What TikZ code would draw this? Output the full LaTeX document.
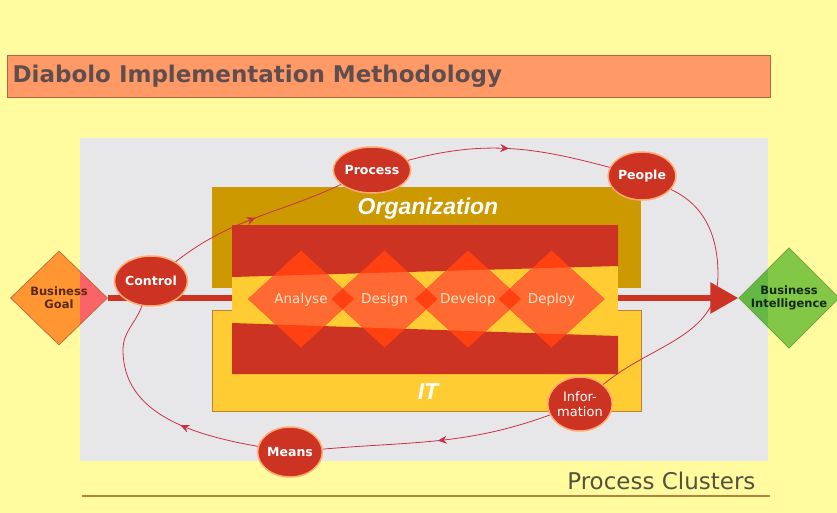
\documentclass[tikz,border=0pt]{standalone}
\usepackage{fontspec}
\setmainfont{DejaVu Sans}
\newfontfamily\boxfont{Liberation Sans}
\usetikzlibrary{positioning,shapes.geometric,arrows.meta,decorations.markings}

\definecolor{pagebg}{RGB}{255,251,158}
\definecolor{panelgray}{RGB}{231,231,233}
\definecolor{titlefill}{RGB}{255,153,102}
\definecolor{titleedge}{RGB}{176,104,64}
\definecolor{titletext}{RGB}{96,78,78}
\definecolor{footertext}{RGB}{84,82,62}
\definecolor{orggold}{RGB}{204,153,0}
\definecolor{ityellow}{RGB}{255,204,51}
\definecolor{itedge}{RGB}{184,128,48}
\definecolor{bandred}{RGB}{204,51,34}
\definecolor{hotorange}{RGB}{255,64,16}
\definecolor{softorange}{RGB}{255,106,51}
\definecolor{stagetext}{RGB}{255,228,200}
\definecolor{clusterred}{RGB}{204,51,34}
\definecolor{clusterrim}{RGB}{255,170,110}
\definecolor{loopred}{RGB}{200,50,70}
\definecolor{goalorange}{RGB}{255,150,50}
\definecolor{goalpink}{RGB}{250,100,105}
\definecolor{goaledge}{RGB}{190,110,60}
\definecolor{goaltext}{RGB}{90,40,20}
\definecolor{bigreen}{RGB}{100,185,70}
\definecolor{bilight}{RGB}{130,200,70}
\definecolor{biedge}{RGB}{110,160,60}
\definecolor{bitext}{RGB}{20,40,20}
\definecolor{rulebrown}{RGB}{180,130,60}

\begin{document}
\begin{tikzpicture}[x=1pt, y=-1pt,
	cluster/.style={ellipse, fill=clusterred, draw=clusterrim, line width=1.5pt, minimum width=58pt, minimum height=50pt, inner sep=0pt, text=white, font=\fontsize{12.5}{14}\selectfont\bfseries},
	stage/.style={text=stagetext, font=\fontsize{13.5}{15}\selectfont},
	goalshape/.style={diamond, minimum width=97pt, minimum height=94pt, inner sep=0pt, align=center, line width=0.8pt, font=\fontsize{11.5}{13}\selectfont\bfseries},
	flow/.style={draw=loopred, line width=0.8pt, postaction={decorate}, decoration={markings, mark=at position #1 with {\arrow{Stealth[length=9pt,width=8pt]}}}},
	layer/.style={font=\boxfont\fontsize{23}{26}\selectfont\bfseries\itshape, text=white}]
		\useasboundingbox (0,0) rectangle (837,513);
		\fill[pagebg] (0,0) rectangle (837,513);
		\fill[panelgray] (80,138) rectangle (768,461);
		
		% title and footer
		\draw[titleedge, fill=titlefill] (7,55) rectangle (770,97);
		\node[anchor=west, text=titletext, font=\fontsize{23}{26}\selectfont\bfseries] (title) at (9,76) {Diabolo Implementation Methodology};
		\draw[rulebrown, line width=1.5pt] (82,496) -- (770,496);
		\node[anchor=east, text=footertext, font=\fontsize{23}{26}\selectfont] (clusters) at (759,481) {Process Clusters};
		
		% goal and result
		\node[goalshape, draw=goaledge, fill=goalorange, text=goaltext, path picture={\fill[goalpink] ([xshift=21pt]path picture bounding box.north) rectangle (path picture bounding box.south east);}] (goal) at (59,298) {Business\\Goal};
		\node[goalshape, draw=biedge, fill=bilight, text=bitext, path picture={\fill[bigreen] (path picture bounding box.south west) rectangle ([xshift=-21pt]path picture bounding box.north);}] (intel) at (789,298) {Business\\Intelligence};
		\draw[bandred, line width=6pt, -{Triangle[length=28pt,width=30pt]}] (goal.east) -- (intel.west);
		
		% organization and IT
		\fill[orggold] (212,187) rectangle (641,288);
		\draw[itedge, fill=ityellow] (212,310) rectangle (641,411);
		\node[layer] (org) at (428,209) {Organization};
		\node[layer] (it) at (428,392) {IT};
		
		% process band
		\fill[ityellow] (232,225) rectangle (618,374);
		\fill[bandred] (232,225) -- (618,225) -- (618,266) -- (232,277) -- cycle;
		\fill[bandred] (232,323) -- (618,336) -- (618,374) -- (232,374) -- cycle;
		\foreach \cx in {301,384.5,468,551.5}
			\fill[hotorange] ({\cx-53},299) -- (\cx,250.5) -- ({\cx+53},299) -- (\cx,347.5) -- cycle;
		\begin{scope}
			\clip (232,277) -- (618,266) -- (618,336) -- (232,323) -- cycle;
			\foreach \cx in {301,384.5,468,551.5}
				\fill[softorange] ({\cx-53},299) -- (\cx,250.5) -- ({\cx+53},299) -- (\cx,347.5) -- cycle;
			\foreach \ox in {342.75,426.25,509.75}
				\fill[hotorange] ({\ox-11.25},299) -- (\ox,288.7) -- ({\ox+11.25},299) -- (\ox,309.3) -- cycle;
		\end{scope}
		\node[stage] (analyse) at (301,300) {Analyse};
		\node[stage, right of=analyse, node distance=83.5pt] (design) {Design};
		\node[stage, right of=design, node distance=83.5pt] (develop) {Develop};
		\node[stage, right of=develop, node distance=83.5pt] (deploy) {Deploy};
		
		% cycle
		\node[cluster] (control) at (151,281) {Control};
		\node[cluster, minimum width=60pt, minimum height=46pt] (process) at (372,170) {Process};
		\node[cluster, minimum width=60pt, minimum height=48pt] (people) at (642,176) {People};
		\node[cluster, minimum width=64pt, minimum height=54pt, font=\fontsize{13}{14.5}\selectfont, align=center] (info) at (580,404) {Infor-\\mation};
		\node[cluster] (means) at (290,452) {Means};
		\coordinate (rimeast) at (718,275);
		\coordinate (rimwest) at (123,350);
		
		\draw[flow=0.5] (control) to[out=38,in=205] (process);
		\draw[flow=0.5] (process) to[out=15,in=165] (people);
		\draw[loopred, line width=0.8pt] (people) to[out=-25,in=90] (rimeast) to[out=-90,in=40] (info);
		\draw[flow=0.5] (info) to[out=200,in=5] (means);
		\draw[flow=0.35] (means) to[out=170,in=-90] (rimwest) to[out=90,in=250] (control);
		
	\end{tikzpicture}
\end{document}
